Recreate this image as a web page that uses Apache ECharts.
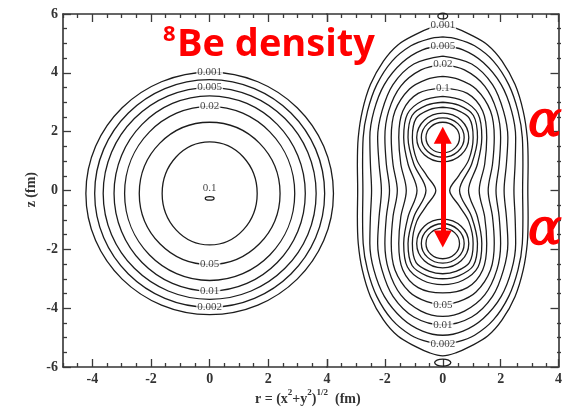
<!DOCTYPE html>
<html>
<head>
<meta charset="utf-8">
<script src="https://cdn.jsdelivr.net/npm/echarts@6/dist/echarts.min.js"></script>
<style>
  html, body { margin: 0; padding: 0; background: #fff; }
  #chart { width: 565px; height: 407px; }
</style>
</head>
<body>
<div id="chart"></div>
<script>
// ---- axes ----
const zTicks = [-6, -4, -2, 0, 2, 4, 6];
const rTicksLeft = [-4, -2, 0, 2, 4];
const rTicksRight = [-4, -2, 0, 2, 4];
const rLabelsRight = [-2, 0, 2, 4];

// ---- left panel: contours of the nearly spherical density (ellipses) ----
const leftLevels  = ['0.001', '0.002', '0.005', '0.01', '0.02', '0.05', '0.08', '0.1'];
const leftCenterZ = [-0.1, -0.1, -0.1, -0.1, -0.1, -0.1, -0.1, -0.27];
const leftSemiR   = [4.22, 3.92, 3.63, 3.26, 2.90, 2.40, 1.62, 0.15];
const leftSemiZ   = [4.12, 3.87, 3.60, 3.32, 2.96, 2.42, 1.75, 0.06];

const leftLabelText = ['0.001', '0.005', '0.02', '0.1', '0.05', '0.01', '0.002'];
const leftLabelR    = [0, 0, 0, 0, 0, 0, 0];
const leftLabelZ    = [4.02, 3.50, 2.86, 0.08, -2.50, -3.42, -3.97];

// ---- right panel: two-alpha density ----
// contours enclosing both clusters, one quadrant each (r >= 0, z >= 0), mirrored
const rightLevels = ['0.001', '0.002', '0.005', '0.01', '0.02', '0.05', '0.1', '0.15', '0.2', '0.25'];
const rightQuarter = [
  [[2.94, 0], [2.95, 0.9], [2.92, 1.8], [2.78, 2.7], [2.50, 3.6], [2.05, 4.4], [1.55, 4.95], [0.95, 5.30], [0.45, 5.52], [0, 5.62]],
  [[2.76, 0], [2.77, 0.9], [2.75, 1.8], [2.60, 2.7], [2.28, 3.6], [1.75, 4.4], [1.10, 4.92], [0.50, 5.15], [0, 5.22]],
  [[2.46, 0], [2.50, 0.9], [2.52, 1.8], [2.38, 2.7], [2.02, 3.6], [1.40, 4.35], [0.70, 4.78], [0, 4.92]],
  [[2.12, 0], [2.20, 0.9], [2.25, 1.8], [2.10, 2.7], [1.72, 3.6], [1.00, 4.30], [0, 4.57]],
  [[1.84, 0], [1.95, 0.9], [2.00, 1.8], [1.87, 2.7], [1.45, 3.55], [0.75, 4.10], [0, 4.28]],
  [[1.57, 0], [1.72, 0.9], [1.78, 1.8], [1.65, 2.7], [1.15, 3.45], [0.55, 3.78], [0, 3.88]],
  [[1.26, 0], [1.45, 0.9], [1.52, 1.8], [1.38, 2.7], [0.85, 3.30], [0, 3.48]],
  [[0.89, 0], [1.20, 0.9], [1.35, 1.8], [1.22, 2.6], [0.70, 3.05], [0, 3.20]],
  [[0.58, 0], [1.00, 0.9], [1.20, 1.8], [1.06, 2.55], [0.55, 2.90], [0, 3.00]],
  [[0.24, 0], [0.55, 0.5], [0.90, 1.05], [1.05, 1.8], [0.92, 2.45], [0.45, 2.75], [0, 2.83]]
];
// closed loops around each alpha cluster
const loopLevels  = ['0.3', '0.4', '0.5'];
const loopCenterZ = [1.8, 1.8, 1.8];
const loopSemiR   = [0.90, 0.74, 0.58];
const loopSemiZ   = [0.83, 0.67, 0.52];
// small islands at the poles
const islandZ     = [5.93, -5.85];
const islandSemiR = [0.17, 0.28];
const islandSemiZ = [0.10, 0.12];

const rightLabelText = ['0.001', '0.005', '0.02', '0.1', '0.05', '0.01', '0.002'];
const rightLabelR    = [0, 0, 0, 0, 0, 0, 0];
const rightLabelZ    = [5.62, 4.92, 4.28, 3.48, -3.88, -4.57, -5.22];

// distance between the clusters (arrow)
const arrowTop = 1.88;
const arrowBottom = -1.65;

// ---- helpers ----
function closedPath(q) {
  const down = q.slice().reverse();                       // top -> waist
  const lower = q.slice(1).map(p => [p[0], -p[1]]);       // waist -> bottom
  const right = down.concat(lower);                       // r >= 0 half
  const left = right.slice(1, -1).reverse().map(p => [-p[0], p[1]]);
  return right.concat(left, [right[0]]);
}

const LINE = '#1c1c1c';
const ellipseItem = function (params, api) {
  const c = api.coord([api.value(0), api.value(1)]);
  const s = api.size([api.value(2), api.value(3)]);
  return {
    type: 'ellipse',
    shape: { cx: c[0], cy: c[1], rx: s[0], ry: s[1] },
    style: { fill: 'none', stroke: LINE, lineWidth: 1.3 }
  };
};

// half-unit positions that are not major ticks
function halves(lo, hi) {
  const out = [];
  for (let v = lo; v <= hi + 1e-9; v += 0.5) {
    if (Math.abs(v % 2) > 1e-9) out.push(v);
  }
  return out;
}

const tickFont = { fontFamily: 'Liberation Serif', fontSize: 14, fontWeight: 'bold', color: '#333' };
const axisLineStyle = { color: '#333', width: 1.6 };
const tickStyle = { color: '#3a3a3a', width: 1.3 };

function xAx(grid, min, max, pos, ticks, labels, len, showLine) {
  return {
    type: 'value', gridIndex: grid, min: min, max: max, position: pos,
    axisLine: { show: showLine, onZero: false, lineStyle: axisLineStyle },
    axisTick: { show: true, inside: true, length: len, customValues: ticks, lineStyle: tickStyle },
    axisLabel: labels ? Object.assign({ show: true, margin: 5, customValues: labels }, tickFont) : { show: false },
    splitLine: { show: false }
  };
}
function yAx(grid, pos, ticks, labels, len, showLine) {
  return {
    type: 'value', gridIndex: grid, min: -6, max: 6, position: pos,
    axisLine: { show: showLine, onZero: false, lineStyle: axisLineStyle },
    axisTick: { show: true, inside: true, length: len, customValues: ticks, lineStyle: tickStyle },
    axisLabel: labels ? Object.assign({ show: true, margin: 5, customValues: labels }, tickFont) : { show: false },
    splitLine: { show: false }
  };
}

const labelStyle = {
  show: true, position: 'inside', formatter: '{b}',
  fontFamily: 'Liberation Serif', fontSize: 11, color: '#111',
  backgroundColor: '#fff', padding: [0, 1]
};

const series = [];
// left panel
series.push({
  type: 'custom', xAxisIndex: 0, yAxisIndex: 0, clip: false, silent: true,
  renderItem: ellipseItem,
  data: leftLevels.map((lv, i) => ({ name: lv, value: [0, leftCenterZ[i], leftSemiR[i], leftSemiZ[i]] }))
});
series.push({
  type: 'scatter', xAxisIndex: 0, yAxisIndex: 0, symbolSize: 1, silent: true, z: 5,
  itemStyle: { color: 'rgba(0,0,0,0)' },
  label: labelStyle,
  data: leftLabelText.map((t, i) => ({ name: t, value: [leftLabelR[i], leftLabelZ[i]] }))
});
// right panel: enclosing contours
rightQuarter.forEach((q, i) => {
  series.push({
    type: 'line', name: rightLevels[i], xAxisIndex: 2, yAxisIndex: 2, silent: true,
    data: closedPath(q), smooth: 0.35, symbol: 'none',
    lineStyle: { color: LINE, width: 1.3 }
  });
});
// right panel: cluster loops and polar islands
const loopData = [];
loopLevels.forEach((lv, i) => {
  loopData.push({ name: lv, value: [0, loopCenterZ[i], loopSemiR[i], loopSemiZ[i]] });
  loopData.push({ name: lv, value: [0, -loopCenterZ[i], loopSemiR[i], loopSemiZ[i]] });
});
islandZ.forEach((z, i) => loopData.push({ name: 'island', value: [0, z, islandSemiR[i], islandSemiZ[i]] }));
series.push({
  type: 'custom', xAxisIndex: 2, yAxisIndex: 2, clip: false, silent: true,
  renderItem: ellipseItem, data: loopData
});
series.push({
  type: 'scatter', xAxisIndex: 2, yAxisIndex: 2, symbolSize: 1, silent: true, z: 5,
  itemStyle: { color: 'rgba(0,0,0,0)' },
  label: labelStyle,
  data: rightLabelText.map((t, i) => ({ name: t, value: [rightLabelR[i], rightLabelZ[i]] })),
  markLine: {
    silent: true, animation: false, z: 10,
    symbol: ['triangle', 'triangle'], symbolSize: [18, 17],
    label: { show: false },
    lineStyle: { color: '#ff0000', width: 5, type: 'solid', opacity: 1 },
    data: [[{ coord: [0, arrowTop] }, { coord: [0, arrowBottom] }]]
  }
});

const leftRect  = { left: 63, top: 14, width: 264, height: 353 };
const rightRect = { left: 327, top: 14, width: 234, height: 353 };

const alphaStyle = {
  text: 'α', fill: '#ff0000', stroke: '#ff0000', lineWidth: 1.4,
  font: 'italic 50px "DejaVu Serif"', align: 'center', verticalAlign: 'middle'
};

const chart = echarts.init(document.getElementById('chart'), null, { renderer: 'canvas' });
chart.setOption({
  animation: false,
  backgroundColor: '#fff',
  // grids 2 and 3 overlay grids 0 and 1 and only carry the minor ticks
  grid: [leftRect, rightRect, leftRect, rightRect],
  xAxis: [
    xAx(0, -5, 4, 'bottom', rTicksLeft, rTicksLeft, 8, true),
    xAx(0, -5, 4, 'top', rTicksLeft, null, 8, true),
    xAx(1, -4, 4, 'bottom', rTicksRight, rLabelsRight, 8, true),
    xAx(1, -4, 4, 'top', rTicksRight, null, 8, true),
    xAx(2, -5, 4, 'bottom', halves(-5, 4), null, 4, false),
    xAx(2, -5, 4, 'top', halves(-5, 4), null, 4, false),
    xAx(3, -4, 4, 'bottom', halves(-4, 4), null, 4, false),
    xAx(3, -4, 4, 'top', halves(-4, 4), null, 4, false)
  ],
  yAxis: [
    yAx(0, 'left', zTicks, zTicks, 8, true),
    yAx(2, 'left', halves(-6, 6), null, 4, false),
    yAx(1, 'right', zTicks, null, 8, true),
    yAx(3, 'right', halves(-6, 6), null, 4, false)
  ],
  series: series,
  graphic: [
    { type: 'text', left: 163, top: 24, z: 100,
      style: { text: '8', fill: '#ff0000', font: 'bold 22px "Open Sans"' } },
    { type: 'text', left: 177, top: 26, z: 100,
      style: { text: 'Be density', fill: '#ff0000', font: 'bold 38px "Open Sans"' } },
    { type: 'text', x: 545, y: 123.5, z: 100, style: alphaStyle },
    { type: 'text', x: 545, y: 231.5, z: 100, style: alphaStyle },
    { type: 'text', left: 24, top: 172, rotation: Math.PI / 2, z: 100,
      style: { text: 'z (fm)', fill: '#333', font: 'bold 14px "Liberation Serif"' } },
    { type: 'text', left: 255, top: 388, z: 100,
      style: {
        text: '{a|r = (x}{s|2}{a|+y}{s|2}{a|)}{s|1/2}{a|  (fm)}',
        rich: {
          a: { fontFamily: 'Liberation Serif', fontSize: 14, fontWeight: 'bold', fill: '#333', color: '#333', lineHeight: 18, verticalAlign: 'bottom' },
          s: { fontFamily: 'Liberation Serif', fontSize: 9, fontWeight: 'bold', fill: '#333', color: '#333', lineHeight: 18, verticalAlign: 'top' }
        }
      } }
  ]
});
</script>
</body>
</html>
